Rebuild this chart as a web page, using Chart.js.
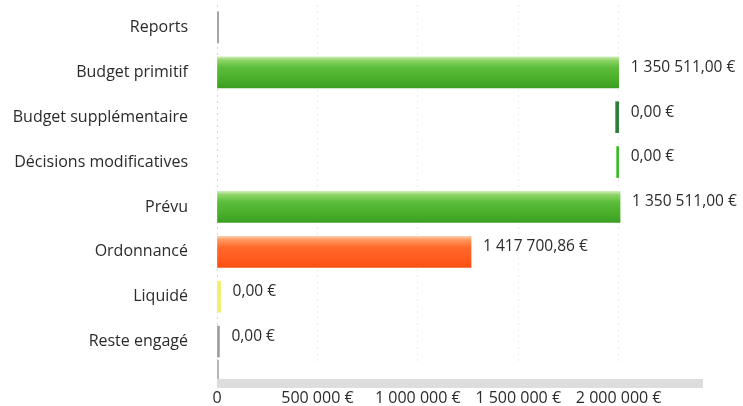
<!DOCTYPE html>
<html>
<head>
<meta charset="utf-8">
<script src="https://cdn.jsdelivr.net/npm/chart.js@4.4.1/dist/chart.umd.min.js"></script>
<style>
  html, body { margin: 0; padding: 0; background: #ffffff; }
  #wrap { width: 743px; height: 406px; position: relative; }
</style>
</head>
<body>
<div id="wrap"><canvas id="c"></canvas></div>
<script>
// ---- data ----
const categories = ['Reports', 'Budget primitif', 'Budget supplémentaire', 'Décisions modificatives', 'Prévu', 'Ordonnancé', 'Liquidé', 'Reste engagé'];
// bar extents as drawn on the axis
const barStart = [0, 0, 1985000, 1990000, 0, 0, 0, 0];
const barEnd   = [8000, 2000000, 2000000, 2000000, 2007000, 1265000, 18000, 12000];
// amounts printed next to the bars
const amounts  = [null, 1350511.00, 0, 0, 1350511.00, 1417700.86, 0, 0];
const xTicks   = [0, 500000, 1000000, 1500000, 2000000];
const xMax     = 2420000;

// ---- styles ----
const barKinds = ['grey', 'green', 'darkgreen', 'brightgreen', 'green', 'orange', 'yellow', 'grey'];

function fmtEuro(v) {
  const fixed = v.toFixed(2);
  let [intPart, dec] = fixed.split('.');
  intPart = intPart.replace(/\B(?=(\d{3})+(?!\d))/g, ' ');
  return intPart + ',' + dec + ' €';
}
function fmtTick(v) {
  if (v === 0) return '0';
  return String(v).replace(/\B(?=(\d{3})+(?!\d))/g, ' ') + ' €';
}

function barColor(ctx) {
  const chart = ctx.chart;
  const kind = barKinds[ctx.dataIndex];
  const y = chart.scales && chart.scales.y;
  const flat = {grey: '#9b9b9b', darkgreen: '#2f7d3a', brightgreen: '#3dbb24', yellow: '#f2ee6e', green: '#4cb32e', orange: '#ff5b1e'};
  if (!y || y.top === undefined || (kind !== 'green' && kind !== 'orange')) return flat[kind];
  const cy = y.getPixelForValue(ctx.dataIndex);
  const g = chart.ctx.createLinearGradient(0, cy - 16, 0, cy + 16);
  if (kind === 'green') {
    g.addColorStop(0, '#d3f0bd');
    g.addColorStop(0.12, '#8fd468');
    g.addColorStop(0.35, '#5cbd3a');
    g.addColorStop(0.75, '#47ad29');
    g.addColorStop(1, '#3a9d20');
  } else {
    g.addColorStop(0, '#ffd3b8');
    g.addColorStop(0.12, '#ff9a62');
    g.addColorStop(0.35, '#ff6a2c');
    g.addColorStop(0.75, '#ff5a1c');
    g.addColorStop(1, '#f84e12');
  }
  return g;
}

const FONT = "'Open Sans', 'Noto Sans', sans-serif";

const valueLabels = {
  id: 'valueLabels',
  afterDatasetsDraw(chart) {
    const ctx = chart.ctx;
    const meta = chart.getDatasetMeta(0);
    ctx.save();
    ctx.font = '15.5px ' + FONT;
    ctx.fillStyle = '#2b2b2b';
    ctx.textAlign = 'left';
    ctx.textBaseline = 'middle';
    meta.data.forEach((el, i) => {
      if (amounts[i] === null) return;
      const xr = Math.max(el.x, el.base);
      ctx.fillText(fmtEuro(amounts[i]), xr + 12, el.y - 5);
    });
    ctx.restore();
  }
};

const bottomBand = {
  id: 'bottomBand',
  afterDraw(chart) {
    const ctx = chart.ctx;
    const a = chart.chartArea;
    ctx.save();
    ctx.fillStyle = '#dddddd';
    ctx.fillRect(a.left, a.bottom + 15, a.right - a.left, 9);
    ctx.fillStyle = '#b5b5b5';
    ctx.fillRect(a.left, a.bottom - 4, 2, 19);
    ctx.restore();
  }
};

new Chart(document.getElementById('c'), {
  type: 'bar',
  data: {
    labels: categories,
    datasets: [{
      data: categories.map((_, i) => [barStart[i], barEnd[i]]),
      backgroundColor: barColor,
      borderWidth: 0,
      barThickness: 31,
      borderSkipped: false
    }]
  },
  options: {
    indexAxis: 'y',
    responsive: true,
    maintainAspectRatio: false,
    animation: false,
    devicePixelRatio: 1,
    layout: { padding: { top: 5, right: 40, left: 0, bottom: 0 } },
    plugins: {
      legend: { display: false },
      tooltip: { enabled: false }
    },
    scales: {
      x: {
        min: 0,
        max: xMax,
        afterBuildTicks(scale) { scale.ticks = xTicks.map(v => ({ value: v })); },
        afterFit(scale) { scale.height = 42; scale.paddingLeft = 0; scale.paddingRight = 0; },
        ticks: {
          padding: 25,
          color: '#2b2b2b',
          font: { family: FONT, size: 16 },
          maxRotation: 0,
          callback: (v) => fmtTick(v)
        },
        grid: {
          drawTicks: false,
          color: (c) => c.tick && c.tick.value === 0 ? '#d6d6d6' : '#ececec',
          lineWidth: 1
        },
        border: { display: false, dash: [2, 4] }
      },
      y: {
        afterFit(scale) { scale.width = 217; scale.paddingTop = 0; scale.paddingBottom = 0; },
        ticks: {
          padding: 29,
          color: '#2b2b2b',
          font: { family: FONT, size: 16 }
        },
        grid: { display: false, drawTicks: false },
        border: { display: false }
      }
    }
  },
  plugins: [valueLabels, bottomBand]
});
</script>
</body>
</html>
